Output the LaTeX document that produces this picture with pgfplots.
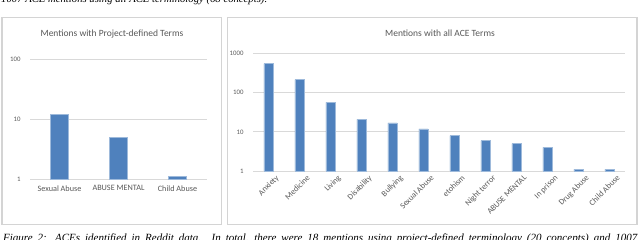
\documentclass[border=0pt]{standalone}
\usepackage{pgfplots}
\pgfplotsset{compat=1.18}
\usepackage{fontspec}
\setmainfont{Liberation Serif}
\newfontfamily\calfont{Carlito}
\definecolor{barblue}{HTML}{4F81BD}
\definecolor{txtgray}{HTML}{595959}
\definecolor{gridgray}{HTML}{D9D9D9}
\definecolor{boxgray}{HTML}{D4D4D4}
\begin{document}
\begin{tikzpicture}
\path[use as bounding box, clip] (0pt,0pt) rectangle (640pt,240pt);
\fill[white] (0pt,0pt) rectangle (640pt,240pt);
% captions (cut off by the page)
\node[anchor=base west, inner sep=0, font=\fontsize{10.7}{13}\selectfont\itshape] at (1pt,237.6pt) {1007 ACE mentions using all ACE terminology (68 concepts).};
\node[anchor=base west, inner sep=0, font=\fontsize{11}{13}\selectfont\itshape] at (3pt,-1.8pt) {\hbox to 634pt{Figure 2: ACEs identified in Reddit data. In total, there were 18 mentions using project-defined terminology (20 concepts) and 1007}};
% chart boxes
\draw[boxgray, line width=1.1pt] (2pt,222.5pt) rectangle (221.7pt,15.7pt);
\draw[boxgray, line width=1.1pt] (227.7pt,222.5pt) rectangle (637pt,15.7pt);
% titles
\node[font=\calfont\fontsize{9.5}{11}\selectfont, text=txtgray] at (112pt,205.5pt) {Mentions with Project-defined Terms};
\node[font=\calfont\fontsize{9.5}{11}\selectfont, text=txtgray] at (440pt,207pt) {Mentions with all ACE Terms};
% left chart
\begin{axis}[scale only axis, anchor=south west, at={(30pt,61pt)}, width=177pt, height=119.7pt,
  ymode=log, ymin=1, ymax=100, xmin=-0.5, xmax=2.5,
  axis x line*=bottom, axis y line*=left,
  y axis line style={draw=none},
  x axis line style={gridgray, line width=0.8pt, -},
  ymajorgrids, grid style={gridgray, line width=0.8pt},
  major tick length=0pt, tick style={draw=none},
  ytick={1,10,100}, yticklabels={1,10,100},
  yticklabel style={font=\calfont\fontsize{6.8}{7}\selectfont, text=txtgray, xshift=-6pt},
  xtick={0,1,2},
  xticklabels={Sexual Abuse, ABUSE MENTAL, Child Abuse},
  xticklabel style={font=\calfont\fontsize{8.2}{9}\selectfont, text=txtgray, yshift=-3pt},
  clip=false]
\addplot[ybar, bar width=18pt, fill=barblue, draw=barblue!55!white, line width=0.6pt]
  coordinates {(0,12) (1,5) (2,1.1)};
\end{axis}
% right chart
\begin{axis}[scale only axis, anchor=south west, at={(253pt,69pt)}, width=372pt, height=117.3pt,
  ymode=log, ymin=1, ymax=1000, xmin=-0.5, xmax=11.5,
  axis x line*=bottom, axis y line*=left,
  y axis line style={draw=none},
  x axis line style={gridgray, line width=0.8pt, -},
  ymajorgrids, grid style={gridgray, line width=0.8pt},
  major tick length=0pt, tick style={draw=none},
  ytick={1,10,100,1000}, yticklabels={1,10,100,1000},
  yticklabel style={font=\calfont\fontsize{6.8}{7}\selectfont, text=txtgray, xshift=-6pt},
  xtick={0,1,2,3,4,5,6,7,8,9,10,11},
  xticklabels={Anxiety, Medicine, Living, Disability, Bullying, Sexual Abuse, etohism, Night terror, ABUSE MENTAL, In prison, Drug Abuse, Child Abuse},
  xticklabel style={font=\calfont\fontsize{8.2}{9}\selectfont, text=txtgray, rotate=45, anchor=north east, inner sep=1pt, yshift=-6pt, xshift=3.5pt},
  clip=false]
\addplot[ybar, bar width=9.3pt, fill=barblue, draw=barblue!55!white, line width=0.6pt]
  coordinates {(0,555) (1,216) (2,57) (3,21) (4,17) (5,12) (6,8) (7,6) (8,5) (9,4) (10,1.1) (11,1.1)};
\end{axis}
\end{tikzpicture}
\end{document}
